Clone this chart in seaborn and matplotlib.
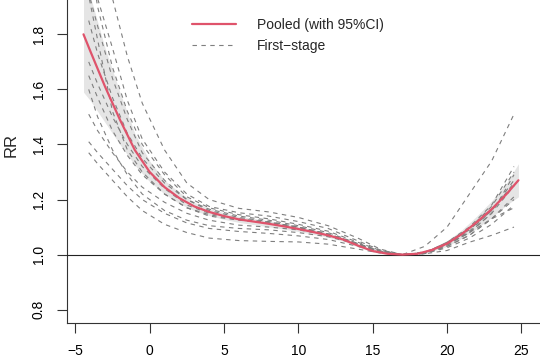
import numpy as np
import pandas as pd
import matplotlib
matplotlib.use("Agg")
import matplotlib.pyplot as plt
from matplotlib.lines import Line2D
import seaborn as sns

# ================= DATA =================
# pooled curve with 95% CI
temp_pooled = [-4.45, -4, -3, -2, -1, 0, 1, 2, 3, 4, 5, 6, 7, 8, 9, 10, 11, 12,
               13, 14, 15, 16, 17, 18, 19, 20, 21, 22, 23, 24, 24.8]
rr_pooled = [1.80, 1.74, 1.61, 1.49, 1.38, 1.30, 1.245, 1.205, 1.175, 1.155,
             1.14, 1.128, 1.12, 1.112, 1.103, 1.093, 1.082, 1.07, 1.055, 1.033,
             1.013, 1.003, 1.0, 1.003, 1.017, 1.04, 1.075, 1.118, 1.165, 1.22, 1.27]
rr_low = [1.59, 1.56, 1.48, 1.40, 1.325, 1.265, 1.22, 1.185, 1.16, 1.142,
          1.128, 1.117, 1.109, 1.101, 1.093, 1.084, 1.074, 1.063, 1.049, 1.028,
          1.009, 1.001, 1.0, 1.001, 1.012, 1.03, 1.06, 1.095, 1.135, 1.18, 1.21]
rr_high = [2.03, 1.94, 1.75, 1.59, 1.44, 1.34, 1.27, 1.226, 1.19, 1.168,
           1.152, 1.139, 1.131, 1.123, 1.113, 1.102, 1.09, 1.077, 1.061, 1.038,
           1.017, 1.005, 1.0, 1.005, 1.022, 1.05, 1.09, 1.14, 1.195, 1.26, 1.33]

# first-stage (city-specific) curves
temp_city = [-4.1, -3.5, -2.5, -1.5, -0.5, 1, 2.5, 4, 6, 8, 10, 12, 14, 15.5,
             17, 18.5, 20, 21.5, 23, 24.5]
city_01 = [2.45, 2.25, 1.93, 1.72, 1.55, 1.38, 1.26, 1.20, 1.168, 1.155, 1.135,
           1.105, 1.06, 1.02, 1.0, 1.01, 1.04, 1.09, 1.16, 1.26]
city_02 = [2.10, 1.93, 1.75, 1.56, 1.42, 1.30, 1.22, 1.175, 1.152, 1.14, 1.12,
           1.095, 1.05, 1.017, 1.0, 1.03, 1.10, 1.22, 1.34, 1.51]
city_03 = [1.94, 1.78, 1.52, 1.38, 1.30, 1.22, 1.17, 1.145, 1.126, 1.118, 1.10,
           1.075, 1.04, 1.012, 1.0, 1.006, 1.035, 1.08, 1.15, 1.29]
city_04 = [1.65, 1.57, 1.45, 1.36, 1.29, 1.22, 1.17, 1.14, 1.125, 1.115, 1.10,
           1.075, 1.04, 1.012, 1.0, 1.005, 1.03, 1.07, 1.13, 1.21]
city_05 = [1.51, 1.45, 1.37, 1.30, 1.245, 1.19, 1.15, 1.125, 1.107, 1.10, 1.09,
           1.07, 1.04, 1.013, 1.0, 1.004, 1.025, 1.06, 1.11, 1.18]
city_06 = [1.41, 1.37, 1.31, 1.25, 1.20, 1.15, 1.115, 1.095, 1.084, 1.077, 1.068,
           1.055, 1.03, 1.008, 1.0, 1.003, 1.015, 1.045, 1.07, 1.10]
city_07 = [1.37, 1.33, 1.27, 1.21, 1.16, 1.11, 1.08, 1.06, 1.051, 1.048, 1.046,
           1.038, 1.02, 1.006, 1.0, 1.008, 1.04, 1.08, 1.13, 1.17]
city_08 = [1.85, 1.73, 1.57, 1.44, 1.35, 1.26, 1.20, 1.165, 1.14, 1.125, 1.105,
           1.08, 1.04, 1.012, 1.0, 1.006, 1.045, 1.095, 1.175, 1.30]
city_09 = [1.70, 1.62, 1.50, 1.40, 1.32, 1.24, 1.18, 1.15, 1.13, 1.118, 1.098,
           1.072, 1.035, 1.01, 1.0, 1.005, 1.04, 1.085, 1.16, 1.27]
city_10 = [1.95, 1.83, 1.64, 1.49, 1.37, 1.27, 1.20, 1.16, 1.135, 1.12, 1.10,
           1.073, 1.036, 1.01, 1.0, 1.004, 1.035, 1.08, 1.15, 1.25]
city_11 = [1.60, 1.50, 1.38, 1.29, 1.22, 1.16, 1.125, 1.105, 1.095, 1.09, 1.08,
           1.065, 1.038, 1.012, 1.0, 1.004, 1.03, 1.07, 1.13, 1.20]
city_12 = [2.10, 1.90, 1.68, 1.52, 1.40, 1.29, 1.21, 1.17, 1.145, 1.13, 1.11,
           1.085, 1.045, 1.015, 1.0, 1.007, 1.045, 1.10, 1.18, 1.32]

cities = [city_01, city_02, city_03, city_04, city_05, city_06,
          city_07, city_08, city_09, city_10, city_11, city_12]

legend_labels = ["Pooled (with 95%CI)", "First\u2212stage"]

RED = "#DF536B"
GREY = "#7F7F7F"

# ================= TABLES =================
df_city = pd.concat(
    [pd.DataFrame({"temp": temp_city, "rr": vals, "city": i})
     for i, vals in enumerate(cities)],
    ignore_index=True
)
df_pooled = pd.DataFrame({"temp": temp_pooled, "rr": rr_pooled,
                          "low": rr_low, "high": rr_high})

# ================= PLOT =================
sns.set_theme(style="ticks")
plt.rcParams["font.family"] = ["Liberation Sans", "DejaVu Sans"]

fig = plt.figure(figsize=(5.4, 3.6), dpi=100)
ax = fig.add_axes([66.7 / 540, 1 - 322.7 / 360, 1 - 66.7 / 540, 322.7 / 360])

ax.fill_between(df_pooled["temp"], df_pooled["low"], df_pooled["high"],
                color="#E5E5E5", lw=0, zorder=1)
sns.lineplot(data=df_city, x="temp", y="rr", units="city", estimator=None,
             color=GREY, lw=0.8, linestyle=(0, (4, 4)), legend=False,
             ax=ax, zorder=2)
ax.axhline(1.0, color="#222222", lw=0.8, zorder=3)
sns.lineplot(data=df_pooled, x="temp", y="rr", color=RED, lw=1.6,
             ax=ax, zorder=4)

ax.set_xlim(-5.58, 26.25)
ax.set_ylim(0.7527, 1.9247)
ax.set_xticks([-5, 0, 5, 10, 15, 20, 25])
ax.set_yticks([0.8, 1.0, 1.2, 1.4, 1.6, 1.8])
ax.set_yticklabels(["0.8", "1.0", "1.2", "1.4", "1.6", "1.8"],
                   rotation=90, va="center")
ax.tick_params(axis="both", length=7, width=0.8, pad=8, labelsize=10,
               color="#333333", labelcolor="black")
for s in ["top", "right"]:
    ax.spines[s].set_visible(False)
for s in ["left", "bottom"]:
    ax.spines[s].set_color("#333333")
    ax.spines[s].set_linewidth(0.8)

ax.set_xlabel("")
ax.set_ylabel("")
fig.text(11 / 540, 1 - 145 / 360, "RR", rotation=90, ha="center", va="center",
         fontsize=12)

handles = [Line2D([], [], color=RED, lw=1.6),
           Line2D([], [], color=GREY, lw=0.8, linestyle=(0, (4, 4)))]
ax.legend(handles, legend_labels, loc="upper left",
          bbox_to_anchor=(192 / 540, 1 - 18 / 360), bbox_transform=fig.transFigure,
          frameon=False, fontsize=10, handlelength=3.2, handletextpad=1.5,
          labelspacing=0.5, borderpad=0, borderaxespad=0)

fig.savefig("out.png", dpi=100)
